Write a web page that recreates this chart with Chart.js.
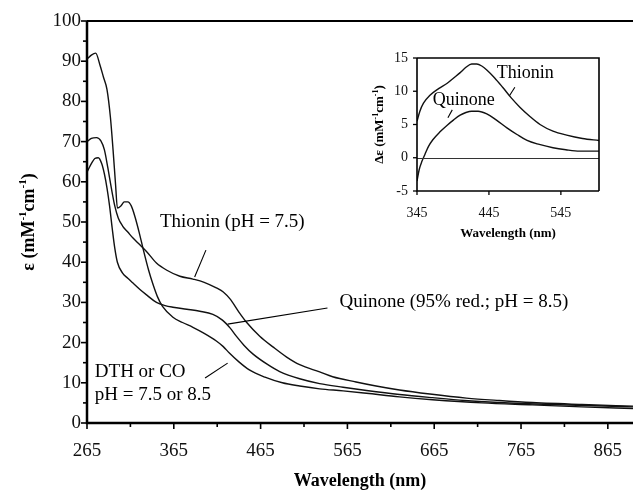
<!DOCTYPE html>
<html>
<head>
<meta charset="utf-8">
<script src="https://cdn.jsdelivr.net/npm/chart.js@4.4.0/dist/chart.umd.min.js"></script>
<style>
  html, body { margin: 0; padding: 0; background: #fff; }
  #wrap { position: relative; width: 633px; height: 491px; }
  #main { position: absolute; left: 0; top: 0; }
  #insetBox { position: absolute; left: 360px; top: 40px; width: 273px; height: 205px; }
</style>
</head>
<body>
<div id="wrap">
  <canvas id="main" width="633" height="491"></canvas>
  <div id="insetBox"><canvas id="inset" width="273" height="205"></canvas></div>
</div>
<script>
// main panel: extinction coefficient vs wavelength
const thioninWl  = [265,270,276,281,285,289,293,297,301,306,312,318,325,333,345,357,372,387,400,414,422,430,440,449,464,480,495,510,533,548,575,598,625,660,702,740,778,835,894];
const thioninEps = [70,70.8,71,70.2,68,63.5,58.5,54,51,49,47.5,46,44.5,42.8,39.8,38,36.5,35.8,35,33.6,32.6,30.8,27.6,25,21.6,18.8,16.4,14.5,12.7,11.5,10.2,9.2,8.2,7.2,6.2,5.6,5.1,4.6,4.2];

const quinoneWl  = [265,270,274,278,282,285,288,291,294,297,300,306,312,318,326,334,345,355,364,380,395,410,421,430,437,446,456,472,487,510,533,560,587,625,663,700,740,800,850,894];
const quinoneEps = [62.4,64.5,65.8,66,64.5,62,58.5,54,48.5,43.5,40,37.3,36,34.8,33.2,31.8,30,29.2,28.8,28.3,27.8,27,25.6,23.6,21.6,19.3,17.2,14.7,12.8,11,9.8,8.9,8.1,7.1,6.3,5.6,5.1,4.6,4.3,4];

const dthWl  = [265,270,275,280,284,288,292,295,298,300,304,308,312,316,320,325,330,336,341,346,352,364,375,387,400,414,422,429,440,452,470,490,510,533,560,587,625,663,720,778,835,894];
const dthEps = [90.5,91.5,92,89,86,83,76,68,59,53.5,54,55,55,54,51.5,47.5,43,38,34.5,31.5,29,26.3,25,23.8,22.3,20.4,19,17.4,15.2,13.2,11.4,10,9.2,8.5,8,7.4,6.5,5.8,5,4.5,4,3.6];

const xTicks = [265,365,465,565,665,765,865];
const yTicks = [0,10,20,30,40,50,60,70,80,90,100];

// inset: difference spectra
const insetThWl = [345,349,354,363,375,387,396,405,413,421,428,435,442,453,464,476,488,502,516,534,553,575,598];
const insetThDe = [5.5,7,8.2,9.4,10.4,11.2,12,12.8,13.6,14.1,14.1,13.8,13.2,12,10.6,9,7.6,6.2,5,4,3.4,2.9,2.6];
const insetQuWl = [345,348,352,356,361,367,377,387,396,405,413,421,430,442,455,470,484,498,515,534,552,571,598];
const insetQuDe = [-3.5,-1.8,-0.5,0.5,1.7,2.7,3.9,4.9,5.7,6.4,6.8,7,7,6.6,5.7,4.5,3.5,2.6,2,1.5,1.2,1,1];
const insetXTicks = [345,445,545];
const insetYTicks = [-5,0,5,10,15];

// labels and pointer lines, in data units
const mainNotes = [
  { text: 'Thionin (pH = 7.5)', x: 349, y: 50 },
  { text: 'Quinone (95% red.; pH = 8.5)', x: 556, y: 30 },
  { text: 'DTH or CO', x: 274, y: 12.7 },
  { text: 'pH = 7.5 or 8.5', x: 274, y: 7 }
];
const mainPointers = [[402, 43, 389, 36.3], [427, 24.6, 542, 28.6], [401, 11.2, 427, 14.9]];
const insetNotes = [
  { text: 'Thionin', x: 456, y: 12.7 },
  { text: 'Quinone', x: 367, y: 8.7 }
];
const insetPointers = [[474, 9.4, 481, 10.6], [388, 6, 394, 7.2]];

const SERIF = '"Liberation Serif", "Times New Roman", serif';
Chart.defaults.font.family = SERIF;
Chart.defaults.color = '#111';

function series(xs, ys) {
  return {
    data: xs.map((v, i) => ({ x: v, y: ys[i] })),
    borderColor: '#111',
    borderWidth: 1.4,
    pointRadius: 0,
    fill: false,
    cubicInterpolationMode: 'monotone'
  };
}

// draw text with superscript parts, optionally rotated
function richText(ctx, parts, size, cx, cy, rotate) {
  ctx.save();
  ctx.translate(cx, cy);
  if (rotate) ctx.rotate(-Math.PI / 2);
  ctx.textBaseline = 'alphabetic';
  ctx.textAlign = 'left';
  let total = 0;
  parts.forEach(p => {
    ctx.font = 'bold ' + (p.sup ? Math.round(size * 0.62) : size) + 'px ' + SERIF;
    total += ctx.measureText(p.t).width;
  });
  let x = -total / 2;
  const base = size * 0.33;
  parts.forEach(p => {
    ctx.font = 'bold ' + (p.sup ? Math.round(size * 0.62) : size) + 'px ' + SERIF;
    ctx.fillText(p.t, x, p.sup ? base - size * 0.42 : base);
    x += ctx.measureText(p.t).width;
  });
  ctx.restore();
}

function decor(o) {
  return {
    id: 'decor_' + o.name,
    afterDatasetsDraw(chart) {
      const { ctx, chartArea: a, scales: { x, y } } = chart;
      ctx.save();
      ctx.strokeStyle = '#000';
      ctx.fillStyle = '#000';

      if (o.zeroLine) {
        ctx.lineWidth = 1;
        ctx.strokeStyle = '#333';
        const py = Math.round(y.getPixelForValue(0)) + 0.5;
        ctx.beginPath(); ctx.moveTo(a.left, py); ctx.lineTo(a.right, py); ctx.stroke();
        ctx.strokeStyle = '#000';
      }

      // frame
      ctx.lineWidth = o.axisWidth;
      ctx.beginPath();
      ctx.moveTo(a.left, a.top); ctx.lineTo(a.left, a.bottom); ctx.lineTo(a.right, a.bottom);
      ctx.stroke();
      ctx.lineWidth = o.topWidth;
      ctx.beginPath();
      ctx.moveTo(a.left, a.top); ctx.lineTo(a.right, a.top);
      if (o.rightBorder) ctx.lineTo(a.right, a.bottom);
      ctx.stroke();

      // ticks
      ctx.lineWidth = o.tickWidth;
      o.xMajor.forEach(v => {
        const px = x.getPixelForValue(v);
        ctx.beginPath(); ctx.moveTo(px, a.bottom); ctx.lineTo(px, a.bottom + o.major); ctx.stroke();
      });
      o.xMinor.forEach(v => {
        const px = x.getPixelForValue(v);
        ctx.beginPath(); ctx.moveTo(px, a.bottom); ctx.lineTo(px, a.bottom + o.minor); ctx.stroke();
      });
      o.yMajor.forEach(v => {
        const py = y.getPixelForValue(v);
        ctx.beginPath(); ctx.moveTo(a.left - o.major, py); ctx.lineTo(a.left, py); ctx.stroke();
      });
      o.yMinor.forEach(v => {
        const py = y.getPixelForValue(v);
        ctx.beginPath(); ctx.moveTo(a.left - o.minor, py); ctx.lineTo(a.left, py); ctx.stroke();
      });

      // annotations
      ctx.font = o.noteSize + 'px ' + SERIF;
      ctx.textBaseline = 'middle';
      ctx.textAlign = 'left';
      o.notes.forEach(n => ctx.fillText(n.text, x.getPixelForValue(n.x), y.getPixelForValue(n.y)));
      ctx.lineWidth = 1.1;
      o.pointers.forEach(p => {
        ctx.beginPath();
        ctx.moveTo(x.getPixelForValue(p[0]), y.getPixelForValue(p[1]));
        ctx.lineTo(x.getPixelForValue(p[2]), y.getPixelForValue(p[3]));
        ctx.stroke();
      });

      // axis titles
      ctx.font = 'bold ' + o.titleSize + 'px ' + SERIF;
      ctx.textAlign = 'center';
      ctx.textBaseline = 'alphabetic';
      ctx.fillText('Wavelength (nm)', (a.left + a.right) / 2, o.xTitleY);
      richText(ctx, o.yTitle, o.titleSize, o.yTitleX, (a.top + a.bottom) / 2, true);
      ctx.restore();
    }
  };
}

function between(list, step) {
  const out = [];
  for (let i = 0; i < list.length; i++) out.push(list[i] + step);
  return out;
}

// keep the plot box fixed: no extra room for overhanging tick labels
function fixX(h) {
  return s => { s.height = h; s.paddingLeft = 0; s.paddingRight = 0; };
}
function fixY(w) {
  return s => { s.width = w; s.paddingTop = 0; s.paddingBottom = 0; };
}

const mainChart = new Chart(document.getElementById('main'), {
  type: 'line',
  data: { datasets: [series(thioninWl, thioninEps), series(quinoneWl, quinoneEps), series(dthWl, dthEps)] },
  options: {
    responsive: false,
    animation: false,
    layout: { padding: { top: 21, right: 0, left: 0, bottom: 0 } },
    plugins: { legend: { display: false }, tooltip: { enabled: false } },
    scales: {
      x: {
        type: 'linear', min: 265, max: 894,
        afterBuildTicks: s => { s.ticks = xTicks.map(v => ({ value: v })); },
        afterFit: fixX(68),
        grid: { display: false, drawTicks: false },
        border: { display: false },
        ticks: { font: { size: 19 }, color: '#111', padding: 17, maxRotation: 0, autoSkip: false }
      },
      y: {
        type: 'linear', min: 0, max: 100,
        afterBuildTicks: s => { s.ticks = yTicks.map(v => ({ value: v })); },
        afterFit: fixY(87),
        grid: { display: false, drawTicks: false },
        border: { display: false },
        ticks: { font: { size: 19 }, color: '#111', padding: 6 }
      }
    }
  },
  plugins: [decor({
    name: 'main', axisWidth: 2.5, topWidth: 2, rightBorder: false, tickWidth: 1.6,
    major: 6, minor: 4,
    xMajor: xTicks, xMinor: between(xTicks, 50),
    yMajor: yTicks, yMinor: between(yTicks.slice(0, -1), 5),
    notes: mainNotes, pointers: mainPointers, noteSize: 19,
    titleSize: 18, xTitleY: 486, yTitleX: 28,
    yTitle: [{ t: '\u03b5 (mM' }, { t: '-1', sup: true }, { t: 'cm' }, { t: '-1', sup: true }, { t: ')' }]
  })]
});

const insetChart = new Chart(document.getElementById('inset'), {
  type: 'line',
  data: { datasets: [series(insetThWl, insetThDe), series(insetQuWl, insetQuDe)] },
  options: {
    responsive: false,
    animation: false,
    layout: { padding: { top: 18, right: 34, left: 0, bottom: 0 } },
    plugins: { legend: { display: false }, tooltip: { enabled: false } },
    scales: {
      x: {
        type: 'linear', min: 345, max: 598,
        afterBuildTicks: s => { s.ticks = insetXTicks.map(v => ({ value: v })); },
        afterFit: fixX(54),
        grid: { display: false, drawTicks: false },
        border: { display: false },
        ticks: { font: { size: 14 }, color: '#111', padding: 14, maxRotation: 0, autoSkip: false }
      },
      y: {
        type: 'linear', min: -5, max: 15,
        afterBuildTicks: s => { s.ticks = insetYTicks.map(v => ({ value: v })); },
        afterFit: fixY(57),
        grid: { display: false, drawTicks: false },
        border: { display: false },
        ticks: { font: { size: 14 }, color: '#111', padding: 9 }
      }
    }
  },
  plugins: [decor({
    name: 'inset', axisWidth: 1.6, topWidth: 1.6, rightBorder: true, tickWidth: 1.3,
    major: 4, minor: 0, zeroLine: true,
    xMajor: insetXTicks, xMinor: [],
    yMajor: insetYTicks, yMinor: [],
    notes: insetNotes, pointers: insetPointers, noteSize: 18,
    titleSize: 13, xTitleY: 197, yTitleX: 19,
    yTitle: [{ t: '\u0394\u03b5 (mM' }, { t: '-1', sup: true }, { t: 'cm' }, { t: '-1', sup: true }, { t: ')' }]
  })]
});
</script>
</body>
</html>
